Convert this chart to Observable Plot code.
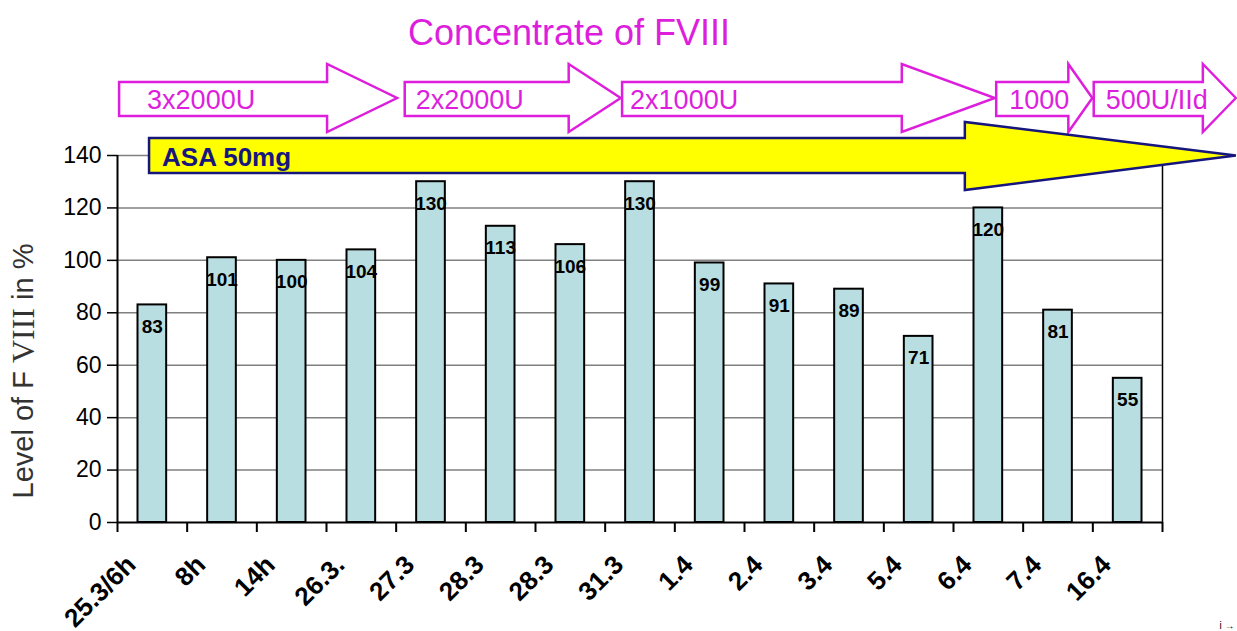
<!DOCTYPE html>
<html><head><meta charset="utf-8">
<script src="https://cdn.jsdelivr.net/npm/d3@7"></script>
<script src="https://cdn.jsdelivr.net/npm/@observablehq/plot@0.6"></script>
<style>body{margin:0;background:#fff}#chart svg{overflow:visible}</style>
</head><body><div id="chart"></div>
<script>
// ---- data ----
const dates = ["25.3/6h","8h","14h","26.3.","27.3","28.3","28.3","31.3","1.4","2.4","3.4","5.4","6.4","7.4","16.4"];
const levels = [83,101,100,104,130,113,106,130,99,91,89,71,120,81,55];
const yTicks = [0,20,40,60,80,100,120,140];
const title = "Concentrate of FVIII";
const yLabelParts = ["Level of F ", "VIII", " in %"];
// dose periods of FVIII concentrate (in category-index units along x)
const doseLabels = ["3x2000U","2x2000U","2x1000U","1000","500U/IId"];
const doseFrom = [0.03, 4.13, 7.25, 12.62, 14.02];
const doseTo = [4.02, 7.23, 12.6, 14.0, 16.06];
const asaLabel = "ASA 50mg";
const asaFrom = 0.46, asaTo = 16.06, asaHead = 12.17;

const data = dates.map((d, i) => ({i, date: d, level: levels[i]}));

// ---- annotation styling ----
const MAG = "#dd1fdd";
const NAVY = "#16167e";
const doseHead = [70, 52, 93, 24, 33];
const doseTextPad = [28, 11, 8, 13, 12];

function arrowPath(x0, x1, hs, sT, sB, hT, hB, tipY) {
  return `M${x0},${sT}L${hs},${sT}L${hs},${hT}L${x1},${tipY}L${hs},${hB}L${hs},${sB}L${x0},${sB}Z`;
}

function annotations(index, scales, values, dim) {
  const x = scales.x;
  const g = d3.create("svg:g").attr("font-family", "'Liberation Sans', Arial, sans-serif");
  g.append("text").attr("x", 569).attr("y", 45).attr("text-anchor", "middle")
    .attr("font-size", 36).attr("fill", MAG).text(title);
  doseLabels.forEach((lab, k) => {
    const x0 = x(doseFrom[k]), x1 = x(doseTo[k]);
    g.append("path").attr("d", arrowPath(x0, x1, x1 - doseHead[k], 82, 116, 64, 132, 98))
      .attr("fill", "#fff").attr("stroke", MAG).attr("stroke-width", 2.5).attr("stroke-linejoin", "miter");
    g.append("text").attr("x", x0 + doseTextPad[k]).attr("y", 109).attr("text-anchor", "start")
      .attr("font-size", 27).attr("fill", MAG).text(lab);
  });
  const a0 = x(asaFrom), a1 = x(asaTo), ah = x(asaHead);
  g.append("path").attr("d", arrowPath(a0, a1, ah, 138, 173, 122, 190, 155.5))
    .attr("fill", "#ffff00").attr("stroke", NAVY).attr("stroke-width", 2.5);
  g.append("text").attr("x", a0 + 13).attr("y", 166).attr("font-size", 26).attr("text-anchor", "start")
    .attr("font-weight", "bold").attr("fill", NAVY).text(asaLabel);
  const yl = g.append("text").attr("transform", "translate(23,371) rotate(-90)")
    .attr("text-anchor", "middle").attr("dominant-baseline", "central")
    .attr("font-size", 29).attr("fill", "#333");
  yl.append("tspan").text(yLabelParts[0]);
  yl.append("tspan").attr("font-family", "'Liberation Serif', 'Times New Roman', serif")
    .attr("font-size", 32).text(yLabelParts[1]);
  yl.append("tspan").text(yLabelParts[2]);
  return g.node();
}

const chart = Plot.plot({
  width: 1237, height: 631,
  marginTop: 155, marginBottom: 109, marginLeft: 117, marginRight: 75,
  style: {fontFamily: "'Liberation Sans', Arial, sans-serif", background: "#fff", overflow: "visible"},
  x: {type: "linear", domain: [0, dates.length], axis: null},
  y: {domain: [0, 140], axis: null},
  marks: [
    Plot.gridY(yTicks.slice(1), {stroke: "#808080", strokeOpacity: 1, strokeWidth: 1.5}),
    Plot.rectY(data, {x1: "i", x2: d => d.i + 1, y: "level", insetLeft: 20.5, insetRight: 20.5,
      fill: "#b9dee2", stroke: "#000", strokeWidth: 2}),
    Plot.text(data, {x: d => d.i + 0.5, y: "level", text: d => String(d.level), dy: 22,
      fontWeight: "bold", fontSize: 19, fill: "#000"}),
    Plot.ruleX([dates.length], {stroke: "#000", strokeWidth: 1.5}),
    Plot.ruleX([0], {stroke: "#000", strokeWidth: 2}),
    Plot.ruleY([0], {stroke: "#000", strokeWidth: 2}),
    Plot.axisX({ticks: d3.range(0, dates.length + 1), tickFormat: () => "", tickSize: 10, strokeWidth: 2}),
    Plot.axisY({ticks: yTicks, tickSize: 10, tickPadding: 6, fontSize: 23, label: null, strokeWidth: 1.5}),
    Plot.text(data, {x: d => d.i + 0.5, y: 0, text: "date", rotate: -45, textAnchor: "end",
      dx: -21, dy: 38, fontSize: 26, fontWeight: "bold", fill: "#000"}),
    annotations
  ]
});
document.getElementById("chart").appendChild(chart);
</script>
</body></html>
